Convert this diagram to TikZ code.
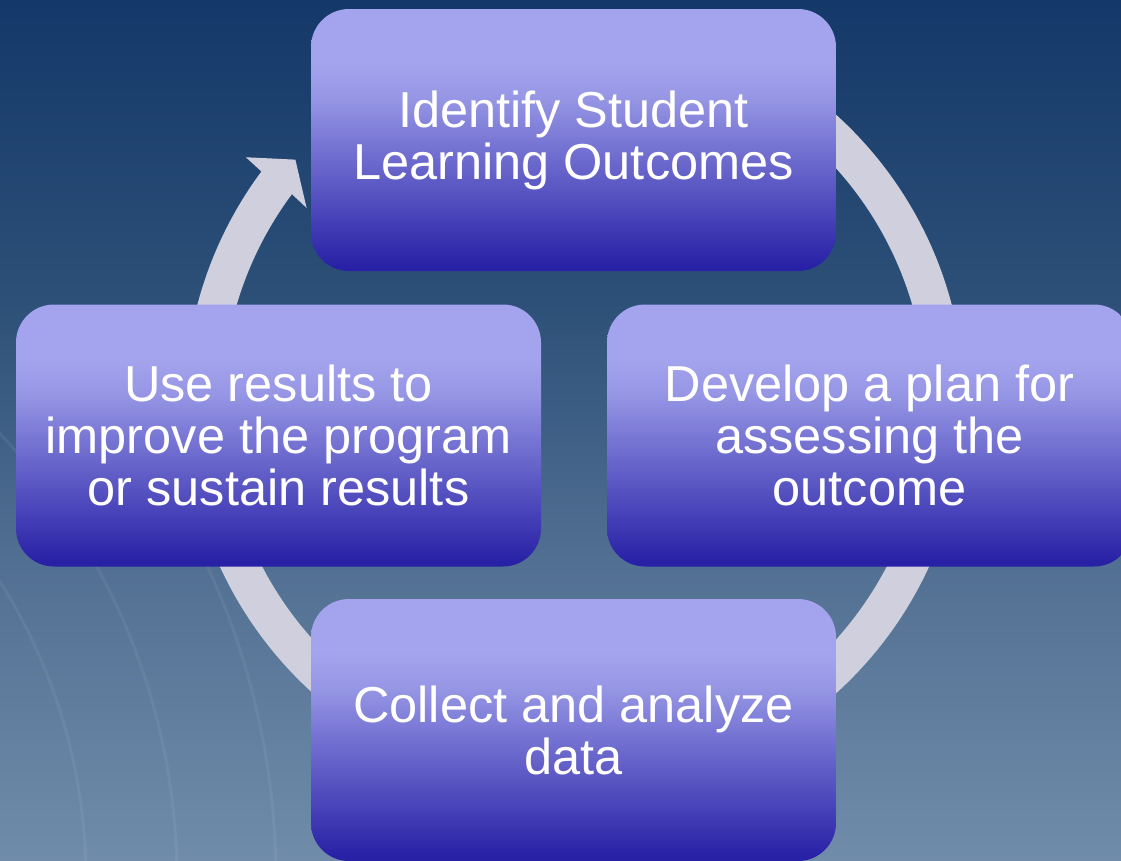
\documentclass[tikz,border=0pt]{standalone}
\usepackage{fontspec}
\setmainfont{Liberation Sans}
\definecolor{boxtop}{RGB}{164,164,238}
\definecolor{boxlt}{RGB}{150,150,229}
\definecolor{boxmid}{RGB}{118,116,211}
\definecolor{boxbot}{RGB}{40,33,166}
\definecolor{ringc}{RGB}{207,207,222}
\definecolor{bga}{RGB}{112,140,170}
\definecolor{bgb}{RGB}{82,112,147}
\definecolor{bgc}{RGB}{45,80,120}
\definecolor{bgd}{RGB}{20,56,105}
\pgfdeclareverticalshading{boxshade}{100bp}{color(0bp)=(boxbot); color(26bp)=(boxbot); color(49bp)=(boxmid); color(58bp)=(boxlt); color(65bp)=(boxtop); color(100bp)=(boxtop)}
\pgfdeclareverticalshading{bgshade}{100bp}{color(0bp)=(bga); color(25bp)=(bga); color(42bp)=(bgb); color(57.5bp)=(bgc); color(75bp)=(bgd); color(100bp)=(bgd)}
\tikzset{
  stepbox/.style={rectangle, rounded corners=38pt, shading=boxshade,
    minimum width=525pt, minimum height=262pt, inner sep=0pt,
    align=center, text=white, font=\fontsize{50.5}{52}\selectfont},
  sealline/.style={draw=white, opacity=0.06, line width=3pt}
}
\begin{document}
\begin{tikzpicture}[x=1pt,y=-1pt]
\useasboundingbox (0,0) rectangle (1121,860);
\clip (0,0) rectangle (1121,860);
\shade[shading=bgshade] (0,0) rectangle (1121,860);
% faint seal watermark
\begin{scope}
\clip (0,380) rectangle (330,860);
\draw[sealline] (-474,880) circle[radius=560];
\draw[sealline] (-474,880) circle[radius=651];
\draw[sealline] (-474,880) circle[radius=750];
\end{scope}
% cycle arrow
\begin{scope}[shift={(574.5,404)}]
\fill[ringc] (270:390) arc[start angle=270,end angle=576.6,radius=390]
  -- (576.9:411) -- (581.2:371) -- (576.2:332) -- (576.6:352)
  arc[start angle=576.6,end angle=270,radius=352] -- cycle;
\end{scope}
% boxes
\node[stepbox] (nid)  at (573.5,140)  {Identify Student\\Learning Outcomes};
\node[stepbox] (ndev) at (869.5,435.5) {Develop a plan for\\assessing the\\outcome};
\node[stepbox] (ncol) at (573.5,730)  {Collect and analyze\\data};
\node[stepbox] (nuse) at (278.5,435.5) {Use results to\\improve the program\\or sustain results};
\end{tikzpicture}
\end{document}
